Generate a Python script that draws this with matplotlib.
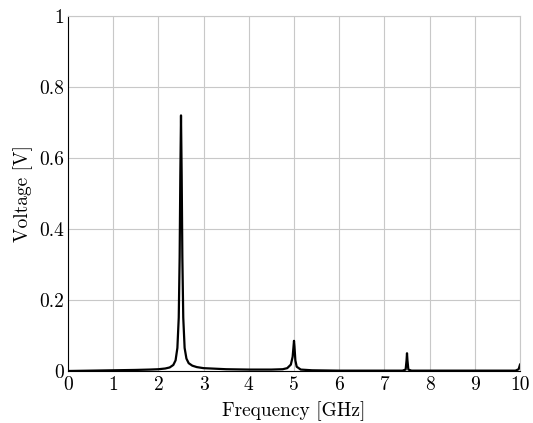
import matplotlib
matplotlib.use("Agg")
import matplotlib.pyplot as plt

# Espectro (frequência em GHz, tensão em V)
freq = [0.0, 0.5, 1.0, 1.5, 1.8, 2.0, 2.15, 2.25, 2.33, 2.38, 2.42, 2.45, 2.47, 2.485, 2.5,
        2.515, 2.53, 2.55, 2.58, 2.62, 2.67, 2.75, 2.85, 3.0, 3.5, 4.0, 4.5, 4.75, 4.85, 4.93,
        4.97, 4.99, 5.0, 5.01, 5.03, 5.06, 5.15, 5.4, 6.0, 7.0, 7.4, 7.47, 7.49, 7.5,
        7.51, 7.53, 7.6, 8.5, 9.9, 9.97, 10.0]
voltage = [0.0, 0.001, 0.002, 0.003, 0.004, 0.005, 0.007, 0.01, 0.017, 0.03, 0.065, 0.15, 0.32, 0.55, 0.72,
           0.55, 0.32, 0.15, 0.065, 0.035, 0.022, 0.015, 0.011, 0.008, 0.005, 0.004, 0.004, 0.005, 0.008, 0.018,
           0.04, 0.07, 0.085, 0.07, 0.03, 0.012, 0.004, 0.002, 0.001, 0.001, 0.001, 0.004, 0.03, 0.05,
           0.03, 0.004, 0.001, 0.001, 0.001, 0.005, 0.018]

x_ticks = [0, 1, 2, 3, 4, 5, 6, 7, 8, 9, 10]
y_ticks = [0, 0.2, 0.4, 0.6, 0.8, 1]
y_labels = ['0', '0.2', '0.4', '0.6', '0.8', '1']

plt.rcParams['font.family'] = 'cmr10'
plt.rcParams['axes.formatter.use_mathtext'] = True
plt.rcParams['font.size'] = 14

fig = plt.figure(figsize=(5.33, 4.23), dpi=100)
ax = fig.add_axes([68 / 533, 52 / 423, 452 / 533, 355 / 423])

ax.plot(freq, voltage, color='black', linewidth=1.6)

ax.set_xlim(0, 10)
ax.set_ylim(0, 1)
ax.set_xticks(x_ticks)
ax.set_xticklabels([str(t) for t in x_ticks])
ax.set_yticks(y_ticks)
ax.set_yticklabels(y_labels)
ax.tick_params(axis='x', length=0, pad=4)
ax.tick_params(axis='y', length=0, pad=3)
ax.grid(True, color='#c8c8c8', linewidth=0.8)
ax.set_axisbelow(True)

for side in ['top', 'right']:
    ax.spines[side].set_color('#c8c8c8')
    ax.spines[side].set_linewidth(0.8)
for side in ['left', 'bottom']:
    ax.spines[side].set_color('black')
    ax.spines[side].set_linewidth(0.8)

ax.set_xlabel('Frequency [GHz]', labelpad=5)
ax.set_ylabel('Voltage [V]', labelpad=4)

fig.savefig('out.png', dpi=100)
